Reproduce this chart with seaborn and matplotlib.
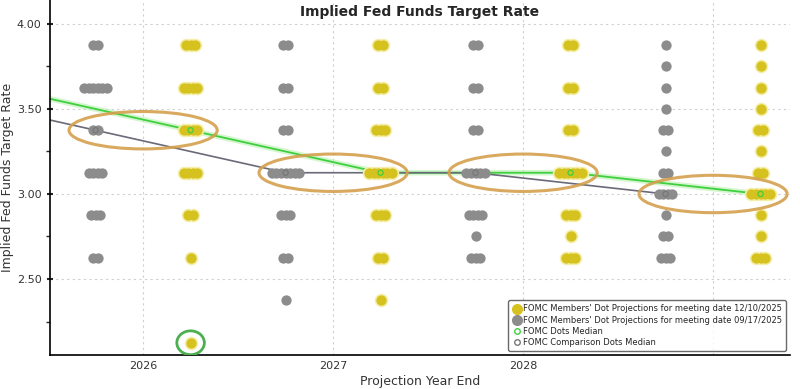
import numpy as np
import pandas as pd
import matplotlib
matplotlib.use('Agg')
import matplotlib.pyplot as plt
import seaborn as sns
from matplotlib.patches import Ellipse
from matplotlib.lines import Line2D

# dot plot counts per rate level
years = [2026, 2027, 2028, 2029]   # 2029 column = longer run

dec_2026_rates = [3.875, 3.625, 3.375, 3.125, 2.875, 2.625, 2.125]
dec_2026_counts = [3, 4, 4, 4, 2, 1, 1]
dec_2027_rates = [3.875, 3.625, 3.375, 3.125, 2.875, 2.625, 2.375]
dec_2027_counts = [2, 2, 3, 6, 3, 2, 1]
dec_2028_rates = [3.875, 3.625, 3.375, 3.125, 2.875, 2.75, 2.625]
dec_2028_counts = [2, 2, 2, 6, 3, 1, 3]
dec_lr_rates = [3.875, 3.75, 3.625, 3.5, 3.375, 3.25, 3.125, 3.0, 2.875, 2.75, 2.625]
dec_lr_counts = [1, 1, 1, 1, 2, 1, 2, 5, 1, 1, 3]

sep_2026_rates = [3.875, 3.625, 3.375, 3.125, 2.875, 2.625]
sep_2026_counts = [2, 6, 2, 4, 3, 2]
sep_2027_rates = [3.875, 3.625, 3.375, 3.125, 2.875, 2.625, 2.375]
sep_2027_counts = [2, 2, 2, 7, 3, 2, 1]
sep_2028_rates = [3.875, 3.625, 3.375, 3.125, 2.875, 2.75, 2.625]
sep_2028_counts = [2, 2, 2, 5, 4, 1, 3]
sep_lr_rates = [3.875, 3.75, 3.625, 3.5, 3.375, 3.25, 3.125, 3.0, 2.875, 2.75, 2.625]
sep_lr_counts = [1, 1, 1, 1, 2, 1, 2, 4, 1, 2, 3]

# medians, including 2025 (column just off the left edge)
median_years = [2025, 2026, 2027, 2028, 2029]
dec_median = [3.625, 3.375, 3.125, 3.125, 3.0]
sep_median = [3.625, 3.375, 3.125, 3.125, 3.0]

dec_label = "FOMC Members' Dot Projections for meeting date 12/10/2025"
sep_label = "FOMC Members' Dot Projections for meeting date 09/17/2025"

YELLOW = '#d6c21e'
GRAY = '#8c8c8c'

dec_cols = [(dec_2026_rates, dec_2026_counts), (dec_2027_rates, dec_2027_counts),
            (dec_2028_rates, dec_2028_counts), (dec_lr_rates, dec_lr_counts)]
sep_cols = [(sep_2026_rates, sep_2026_counts), (sep_2027_rates, sep_2027_counts),
            (sep_2028_rates, sep_2028_counts), (sep_lr_rates, sep_lr_counts)]

step = 0.024  # horizontal spacing between stacked dots
rows = []
for meeting, cols, shift in [('dec', dec_cols, 0.25), ('sep', sep_cols, -0.25)]:
    for yr, (rates, counts) in zip(years, cols):
        for r, n in zip(rates, counts):
            offs = (np.arange(n) - (n - 1) / 2) * step
            for o in offs:
                rows.append({'meeting': meeting, 'x': yr + shift + o, 'rate': r})
dots = pd.DataFrame(rows)

med = pd.DataFrame({
    'x': [y + 0.25 for y in median_years] + [y - 0.25 for y in median_years],
    'rate': dec_median + sep_median,
    'meeting': ['dec'] * len(median_years) + ['sep'] * len(median_years),
})

sns.set_style('white')
fig = plt.figure(figsize=(8, 3.89), dpi=100)
ax = fig.add_axes([0.0625, 0.0874, 0.925, 0.9126])

# median lines (under the dots)
dm = med[med.meeting == 'dec']
sm = med[med.meeting == 'sep']
ax.plot(dm.x, dm.rate, color='#b8f0b0', lw=4, alpha=0.6, zorder=1)
sns.lineplot(data=dm, x='x', y='rate', color='#3fcf3f', lw=1.3, ax=ax, zorder=2, sort=False)
sns.lineplot(data=sm, x='x', y='rate', color='#6a6a78', lw=1.2, ax=ax, zorder=2, sort=False)

sns.scatterplot(data=dots[dots.meeting == 'sep'], x='x', y='rate', color=GRAY,
                s=55, linewidth=0, ax=ax, zorder=3, legend=False)
# soft halo under the yellow dots
sns.scatterplot(data=dots[dots.meeting == 'dec'], x='x', y='rate', color='#f5eeaa',
                s=95, linewidth=0, ax=ax, zorder=2.5, legend=False)
sns.scatterplot(data=dots[dots.meeting == 'dec'], x='x', y='rate', color=YELLOW,
                s=55, linewidth=0, ax=ax, zorder=3, legend=False)

# median markers
ax.scatter(dm.x, dm.rate, s=14, facecolor='none', edgecolor='#3fcf3f', lw=0.9, zorder=4)
ax.scatter(sm.x, sm.rate, s=14, facecolor='none', edgecolor='#777777', lw=0.9, zorder=4)

# hand-drawn style highlights
for i, yr in enumerate(median_years):
    if yr not in years:
        continue
    cy = (dec_median[i] + sep_median[i]) / 2
    ax.add_patch(Ellipse((yr, cy), 0.78, 0.22, fill=False, ec='#d4a04c', lw=2.2,
                         alpha=0.9, zorder=5))
low = min(dec_2026_rates)
ax.add_patch(Ellipse((2026.25, low), 0.145, 0.14, fill=False, ec='#4caf50', lw=2, zorder=5))

ax.set_xlim(2025.51, 2029.405)
ax.set_ylim(2.053, 4.141)
ax.set_yticks([2.5, 3.0, 3.5, 4.0])
ax.set_yticklabels(['2.50', '3.00', '3.50', '4.00'])
ax.set_yticks([2.25, 2.75, 3.25, 3.75], minor=True)
ax.set_xticks(years)
ax.set_xticklabels(['2026', '2027', '2028', ''])
ax.tick_params(axis='y', which='major', direction='inout', length=5, width=1.5,
               labelsize=8, labelcolor='#333333', left=True)
ax.tick_params(axis='y', which='minor', direction='out', length=3, width=1, left=True)
ax.tick_params(axis='x', length=0, labelsize=8, labelcolor='#333333', pad=4)

ax.grid(True, which='major', color='#cfcfcf', lw=0.8, linestyle=(0, (2, 3)))
for s in ['top', 'right']:
    ax.spines[s].set_visible(False)
for s in ['left', 'bottom']:
    ax.spines[s].set_color('black')
    ax.spines[s].set_linewidth(1.2)

ax.set_xlabel('Projection Year End', fontsize=9, color='#333333', labelpad=3)
ax.set_ylabel('Implied Fed Funds Target Rate', fontsize=9, color='#333333', labelpad=2)
fig.text(0.525, 1 - 12 / 389, 'Implied Fed Funds Target Rate', fontsize=10,
         fontweight='bold', ha='center', va='center')

handles = [
    Line2D([], [], marker='o', ls='none', color=YELLOW, markersize=7),
    Line2D([], [], marker='o', ls='none', color=GRAY, markersize=7),
    Line2D([], [], marker='o', ls='none', mfc='none', mec='#3fcf3f', markersize=4),
    Line2D([], [], marker='o', ls='none', mfc='none', mec='#777777', markersize=4),
]
leg = ax.legend(handles, [dec_label, sep_label, 'FOMC Dots Median', 'FOMC Comparison Dots Median'],
                loc='lower right', bbox_to_anchor=(1.0, 0.0), fontsize=6, frameon=True,
                handletextpad=0.2, labelspacing=0.25, borderpad=0.5, handlelength=1.0,
                fancybox=True)
leg.get_frame().set_edgecolor('#444444')
leg.get_frame().set_linewidth(1.0)
leg.set_zorder(6)

fig.savefig('out.png', dpi=100)
